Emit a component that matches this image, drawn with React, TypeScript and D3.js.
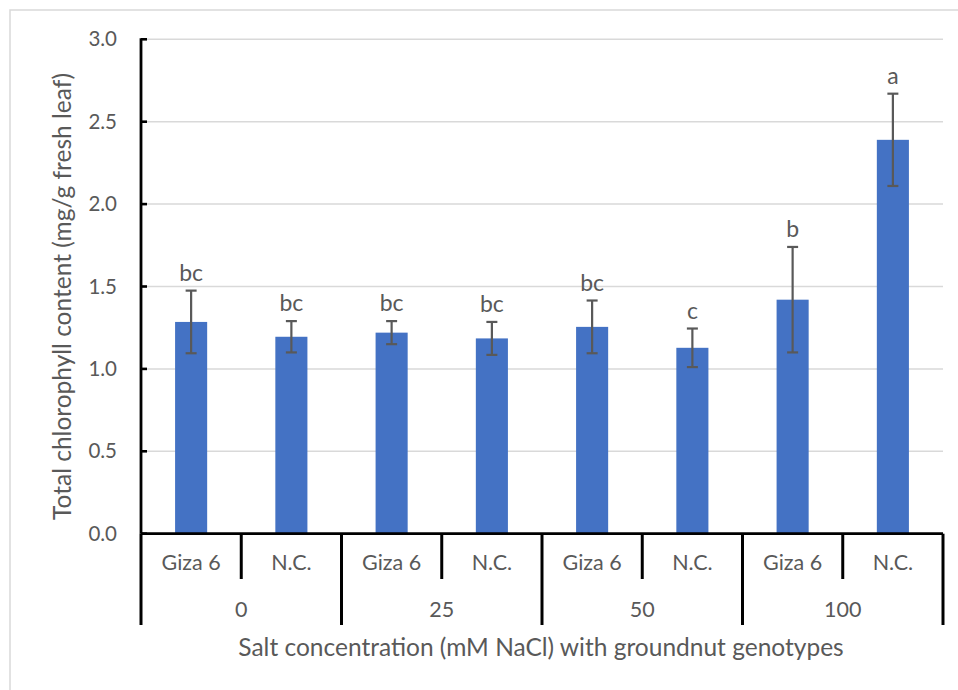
import * as d3 from "d3";

// salt levels (mM NaCl) and the two genotypes inside each level
const saltLevels = ["0", "25", "50", "100"];
const genotypes = ["Giza 6", "N.C."];

// one entry per bar, in drawing order (level by level)
const chlorophyll = [1.285, 1.195, 1.22, 1.185, 1.255, 1.128, 1.42, 2.39];
const stdErr = [0.19, 0.095, 0.07, 0.1, 0.16, 0.117, 0.32, 0.28];
const letters = ["bc", "bc", "bc", "bc", "bc", "c", "b", "a"];

const yTicks = [0, 0.5, 1, 1.5, 2, 2.5, 3];

const W = 958;
const H = 690;
const left = 141;
const right = 943;
const top = 39.3;
const bottom = 533.7;

const FONT = "Lato, 'Open Sans', sans-serif";
const TXT = "#595959";

export default function App() {
  const bars = d3.range(chlorophyll.length);

  const x = d3
    .scaleBand<number>()
    .domain(bars)
    .range([left, right])
    .paddingInner(0.68)
    .paddingOuter(0.34);

  // plain cells, no padding, used for the category boxes under the axis
  const cell = d3.scaleBand<number>().domain(bars).range([left, right]);

  const group = d3.scaleBand<string>().domain(saltLevels).range([left, right]);

  const y = d3.scaleLinear().domain([0, 3]).range([bottom, top]);

  const capW = 11;

  return (
    <svg
      width={W}
      height={H}
      style={{ position: "absolute", left: 0, top: 0, background: "#fff" }}
      fontFamily={FONT}
    >
      {/* chart frame: only its top and left edges fall inside the picture */}
      <rect x={10} y={10} width={W + 20} height={H + 20} fill="#fff" stroke="#d9d9d9" strokeWidth={1.5} />

      {/* gridlines */}
      {yTicks
        .filter((t) => t > 0)
        .map((t) => (
          <line key={t} x1={left} x2={right} y1={y(t)} y2={y(t)} stroke="#d9d9d9" strokeWidth={1.5} />
        ))}

      {/* bars */}
      {bars.map((i) => (
        <rect
          key={i}
          x={x(i)}
          y={y(chlorophyll[i])}
          width={x.bandwidth()}
          height={y(0) - y(chlorophyll[i])}
          fill="#4472C4"
        />
      ))}

      {/* error bars */}
      {bars.map((i) => {
        const cx = (x(i) as number) + x.bandwidth() / 2;
        const hi = y(chlorophyll[i] + stdErr[i]);
        const lo = y(chlorophyll[i] - stdErr[i]);
        return (
          <g key={i} stroke="#595959" strokeWidth={2.2}>
            <line x1={cx} x2={cx} y1={hi} y2={lo} />
            <line x1={cx - capW / 2} x2={cx + capW / 2} y1={hi} y2={hi} />
            <line x1={cx - capW / 2} x2={cx + capW / 2} y1={lo} y2={lo} />
          </g>
        );
      })}

      {/* significance letters */}
      {bars.map((i) => (
        <text
          key={i}
          x={(x(i) as number) + x.bandwidth() / 2}
          y={y(chlorophyll[i] + stdErr[i]) - 10}
          textAnchor="middle"
          fontSize={23}
          fill={TXT}
        >
          {letters[i]}
        </text>
      ))}

      {/* y axis */}
      <line x1={left} x2={left} y1={top - 1} y2={bottom} stroke="#000" strokeWidth={2.8} />
      {yTicks.map((t) => (
        <g key={t}>
          <line x1={left} x2={left + 6} y1={y(t)} y2={y(t)} stroke="#000" strokeWidth={2.6} />
          <text x={117} y={y(t)} dy="0.35em" textAnchor="end" fontSize={20.5} fill={TXT}>
            {t.toFixed(1)}
          </text>
        </g>
      ))}
      <text
        transform={`translate(71,${(top + bottom) / 2 + 10}) rotate(-90)`}
        textAnchor="middle"
        fontSize={24.5}
        fill={TXT}
      >
        Total chlorophyll content (mg/g fresh leaf)
      </text>

      {/* x axis with the two-level category boxes */}
      <line x1={left} x2={right} y1={bottom} y2={bottom} stroke="#000" strokeWidth={2.8} />
      {bars.map((i) => {
        const edge = (cell(i) as number) + cell.bandwidth();
        const isGroupEdge = (i + 1) % genotypes.length === 0;
        return isGroupEdge ? null : (
          <line key={i} x1={edge} x2={edge} y1={bottom} y2={579} stroke="#000" strokeWidth={3} />
        );
      })}
      {[...saltLevels.map((g) => group(g) as number), right].map((gx, k) => (
        <line key={k} x1={gx} x2={gx} y1={bottom} y2={625} stroke="#000" strokeWidth={3} />
      ))}
      {bars.map((i) => (
        <text
          key={i}
          x={(cell(i) as number) + cell.bandwidth() / 2}
          y={570}
          textAnchor="middle"
          fontSize={21.5}
          fill={TXT}
        >
          {genotypes[i % genotypes.length]}
        </text>
      ))}
      {saltLevels.map((g) => (
        <text
          key={g}
          x={(group(g) as number) + group.bandwidth() / 2}
          y={617}
          textAnchor="middle"
          fontSize={21.5}
          fill={TXT}
        >
          {g}
        </text>
      ))}
      <text x={(left + right) / 2 - 1} y={656} textAnchor="middle" fontSize={24.5} fill={TXT}>
        Salt concentration (mM NaCl) with groundnut genotypes
      </text>
    </svg>
  );
}
